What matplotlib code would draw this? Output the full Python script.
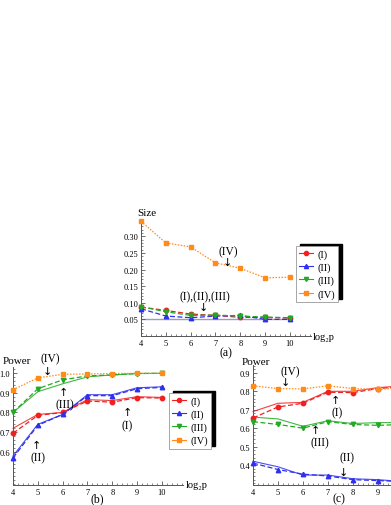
import matplotlib
matplotlib.use('Agg')
import matplotlib.pyplot as plt
from matplotlib.patches import Rectangle
from matplotlib.ticker import MultipleLocator, FormatStrFormatter
from matplotlib.lines import Line2D

# ---------------- data ----------------
log2p = [4, 5, 6, 7, 8, 9, 10]
labels = ["(I)", "(II)", "(III)", "(IV)"]

# (a) size
size_I = [0.087, 0.077, 0.066, 0.062, 0.056, 0.056, 0.054]
size_II = [0.082, 0.060, 0.055, 0.060, 0.062, 0.050, 0.050]
size_III = [0.088, 0.073, 0.062, 0.063, 0.060, 0.057, 0.055]
size_IV = [0.345, 0.280, 0.268, 0.220, 0.204, 0.175, 0.177]
nominal = 0.05

# (b) power: estimated (dashed + markers) and theoretical (solid)
b_I = [0.695, 0.785, 0.800, 0.858, 0.852, 0.875, 0.873]
b_I_th = [0.720, 0.790, 0.800, 0.865, 0.860, 0.880, 0.876]
b_II = [0.570, 0.735, 0.790, 0.885, 0.885, 0.920, 0.927]
b_II_th = [0.580, 0.740, 0.790, 0.890, 0.890, 0.925, 0.930]
b_III = [0.800, 0.920, 0.965, 0.985, 0.990, 0.997, 0.998]
b_III_th = [0.800, 0.905, 0.945, 0.980, 0.990, 0.997, 0.998]
b_IV = [0.915, 0.975, 0.993, 0.995, 0.997, 0.998, 0.998]

# (c) power
c_I = [0.655, 0.715, 0.735, 0.795, 0.793, 0.815, 0.825]
c_I_th = [0.690, 0.735, 0.740, 0.800, 0.800, 0.820, 0.830]
c_II = [0.410, 0.375, 0.350, 0.340, 0.320, 0.315, 0.310]
c_II_th = [0.420, 0.390, 0.345, 0.345, 0.325, 0.320, 0.310]
c_III = [0.635, 0.620, 0.600, 0.635, 0.620, 0.615, 0.620]
c_III_th = [0.660, 0.650, 0.610, 0.640, 0.625, 0.630, 0.630]
c_IV = [0.830, 0.815, 0.813, 0.830, 0.815, 0.810, 0.820]

# ---------------- style ----------------
RED, BLUE, GREEN, ORANGE = '#f02020', '#2f2ff0', '#22aa22', '#ff8c1a'
colors = [RED, BLUE, GREEN, ORANGE]
markers = ['o', '^', 'v', 's']
SERIF = ['Liberation Serif', 'DejaVu Serif']
plt.rcParams['font.family'] = SERIF

W, H = 391, 506
fig = plt.figure(figsize=(W / 100, H / 100), dpi=100)


def px_axes(left, right, bottom, top):
    return fig.add_axes([left / W, 1 - bottom / H, (right - left) / W, (bottom - top) / H])


def style_axes(ax, ymajor, yminor, yfmt, xt):
    for s in ['top', 'right']:
        ax.spines[s].set_visible(False)
    for s in ['left', 'bottom']:
        ax.spines[s].set_color('#555555')
        ax.spines[s].set_linewidth(0.7)
    ax.set_facecolor('none')
    ax.xaxis.set_major_locator(MultipleLocator(1))
    ax.xaxis.set_minor_locator(MultipleLocator(0.2))
    ax.yaxis.set_major_locator(MultipleLocator(ymajor))
    ax.yaxis.set_minor_locator(MultipleLocator(yminor))
    ax.yaxis.set_major_formatter(FormatStrFormatter(yfmt))
    ax.tick_params(which='major', direction='in', length=3, width=0.6,
                   color='#555555', labelsize=6, pad=2)
    ax.tick_params(which='minor', direction='in', length=1.5, width=0.5,
                   color='#555555')
    ax.set_xticks(xt)


def dashed(ax, y, i, ls=(0, (4, 2))):
    ax.plot(log2p, y, color=colors[i], ls=ls, lw=0.9, marker=markers[i],
            ms=3.2, clip_on=False, zorder=3)


def solid(ax, y, i):
    ax.plot(log2p, y, color=colors[i], ls='-', lw=0.8, alpha=0.85,
            clip_on=False, zorder=2)


DOT = (0, (1.2, 1.2))
TXT = dict(fontsize=8.3, ha='center', va='center')
ARR = dict(fontsize=8, ha='center', va='center', family=['DejaVu Sans'])

# ---------------- panel (a) ----------------
axa = px_axes(141, 311, 337, 220)
axa.set_xlim(4, 10.85)
axa.set_ylim(0, 0.352)
style_axes(axa, 0.05, 0.01, '%.2f', log2p)
axa.set_yticks([0.05, 0.10, 0.15, 0.20, 0.25, 0.30])
axa.plot([log2p[0], log2p[-1]], [nominal, nominal], color='#9a9ad0', lw=1.0, zorder=1)
dashed(axa, size_I, 0)
dashed(axa, size_II, 1)
dashed(axa, size_III, 2)
dashed(axa, size_IV, 3, ls=DOT)
axa.text(7.5, 0.256, "(IV)", **TXT)
axa.text(7.5, 0.222, "↓", **ARR)
axa.text(6.58, 0.12, "(I),(II),(III)", **TXT)
axa.text(6.5, 0.086, "↓", **ARR)

# ---------------- panel (b) ----------------
axb = px_axes(13, 183, 486, 368)
axb.set_xlim(4, 10.85)
axb.set_ylim(0.433, 1.03)
style_axes(axb, 0.1, 0.02, '%.1f', log2p)
axb.set_yticks([0.6, 0.7, 0.8, 0.9, 1.0])
solid(axb, b_I_th, 0)
solid(axb, b_II_th, 1)
solid(axb, b_III_th, 2)
dashed(axb, b_I, 0)
dashed(axb, b_II, 1)
dashed(axb, b_III, 2)
dashed(axb, b_IV, 3, ls=DOT)
axb.text(5.49, 1.076, "(IV)", **TXT)
axb.text(5.37, 1.012, "↓", **ARR)
axb.text(6.1, 0.840, "(III)", **TXT)
axb.text(6.02, 0.905, "↑", **ARR)
axb.text(8.6, 0.735, "(I)", **TXT)
axb.text(8.6, 0.800, "↑", **ARR)
axb.text(5.0, 0.573, "(II)", **TXT)
axb.text(4.93, 0.637, "↑", **ARR)

# ---------------- panel (c) ----------------
axc = px_axes(253, 424, 486, 366)
axc.set_xlim(4, 10.85)
axc.set_ylim(0.291, 0.943)
style_axes(axc, 0.1, 0.02, '%.1f', log2p[:-1])
axc.set_yticks([0.4, 0.5, 0.6, 0.7, 0.8, 0.9])
solid(axc, c_I_th, 0)
solid(axc, c_II_th, 1)
solid(axc, c_III_th, 2)
dashed(axc, c_I, 0)
dashed(axc, c_II, 1)
dashed(axc, c_III, 2)
dashed(axc, c_IV, 3, ls=DOT)
axc.text(5.48, 0.911, "(IV)", **TXT)
axc.text(5.28, 0.851, "↓", **ARR)
axc.text(7.36, 0.686, "(I)", **TXT)
axc.text(7.32, 0.754, "↑", **ARR)
axc.text(6.68, 0.525, "(III)", **TXT)
axc.text(6.48, 0.592, "↑", **ARR)
axc.text(7.76, 0.440, "(II)", **TXT)
axc.text(7.64, 0.362, "↓", **ARR)

# ---------------- axis labels ----------------
fig.text(147 / W, 1 - 213 / H, "Size", fontsize=8, ha='center', va='center')
fig.text(17 / W, 1 - 362 / H, "Power", fontsize=8, ha='center', va='center')
fig.text(256 / W, 1 - 363 / H, "Power", fontsize=8, ha='center', va='center')
for (x, y) in [(313, 337), (186, 486)]:
    fig.text(x / W, 1 - y / H, "log₂p", fontsize=7.5, ha='left', va='center',
             family=SERIF)
fig.text(226 / W, 1 - 353 / H, "(a)", fontsize=8.5, ha='center', va='center')
fig.text(97 / W, 1 - 499 / H, "(b)", fontsize=8.5, ha='center', va='center')
fig.text(339 / W, 1 - 499 / H, "(c)", fontsize=8.5, ha='center', va='center')


# ---------------- legends with shadow ----------------
def legend_at(left, top):
    handles = [Line2D([], [], color=colors[i], ls='-', lw=0.8, marker=markers[i], ms=3)
               for i in range(4)]
    leg = fig.legend(handles, labels, loc='upper left',
                     bbox_to_anchor=(left / W, 1 - top / H), borderaxespad=0,
                     fontsize=7.5, handlelength=1.3, handletextpad=0.45,
                     labelspacing=0.35, borderpad=0.3, fancybox=False,
                     frameon=True, edgecolor='#999999', framealpha=1)
    leg.get_frame().set_linewidth(0.6)
    leg.set_zorder(6)
    return leg


legs = [legend_at(296, 247), legend_at(169, 394)]
fig.canvas.draw()
for leg in legs:
    bb = leg.get_window_extent()
    sh = Rectangle((bb.x0 + 3.5, bb.y0 + 2.5), bb.width, bb.height,
                   transform=None, facecolor='black', edgecolor='black', zorder=5.5)
    fig.add_artist(sh)

fig.savefig('out.png', dpi=100)
